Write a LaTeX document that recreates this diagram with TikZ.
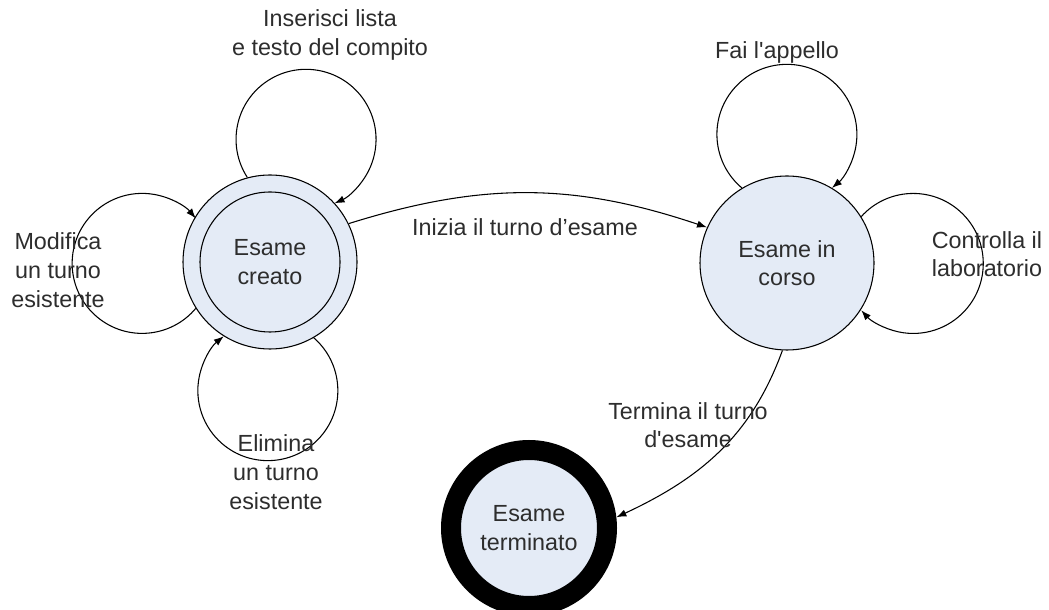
\documentclass[tikz,border=0pt]{standalone}
\usepackage{fontspec}
\setmainfont{Liberation Sans}
\usetikzlibrary{arrows.meta}

\definecolor{statecolor}{RGB}{228,235,246}
\definecolor{labelcolor}{RGB}{45,45,45}
\newcommand{\statefont}{\fontsize{17.5}{21.5}\selectfont}

\tikzset{
  state/.style={circle, draw, line width=0.8pt, fill=statecolor, minimum size=130.5pt,
    inner sep=0pt, align=center, font=\statefont, text=labelcolor},
  final/.style={state, line width=15pt, minimum size=117pt},
  trans/.style={line width=0.8pt, -{Latex[length=7.5pt,width=5.5pt]}},
  lbl/.style={align=center, font=\statefont, text=labelcolor, inner sep=0pt},
}

\begin{document}
\begin{tikzpicture}[x=0.75pt, y=0.75pt]
\useasboundingbox (0,0) rectangle (1049,610);

% states
\node[state] (creato) at (270,348) {Esame\\creato};
\draw[line width=0.8pt] (creato.center) circle[radius=70];
\node[state] (corso) at (787,347) {Esame in\\corso};
\node[final] (terminato) at (529,82) {Esame\\terminato};

% loops on Esame creato
\draw[trans] (creato.105) arc[start angle=213, end angle=-66, radius=70];
\draw[trans] (creato.212) arc[start angle=-40, end angle=-320, radius=70];
\draw[trans] (creato.-60) arc[start angle=49, end angle=-231, radius=70];

% loops on Esame in corso
\draw[trans] (corso.121) arc[start angle=230, end angle=-50, radius=70];
\draw[trans] (corso.32) arc[start angle=138, end angle=-138, radius=70];

% transitions
\draw[trans] (creato.26) to[bend left=18] (corso.156);
\draw[trans] (corso.267) to[out=-110, in=25] (terminato.7);

% labels
\node[lbl] (inserisci) at (330,575) {Inserisci lista\\e testo del compito};
\node[lbl] (modifica) at (58,340) {Modifica\\un turno\\esistente};
\node[lbl] (elimina) at (276,138) {Elimina\\un turno\\esistente};
\node[lbl] (appello) at (777,558) {Fai l\textquotesingle appello};
\node[lbl] (controlla) at (987,356) {Controlla il\\laboratorio};
\node[lbl] (inizia) at (525,383) {Inizia il turno d’esame};
\node[lbl] (termina) at (688,185) {Termina il turno\\d\textquotesingle esame};
\end{tikzpicture}
\end{document}
